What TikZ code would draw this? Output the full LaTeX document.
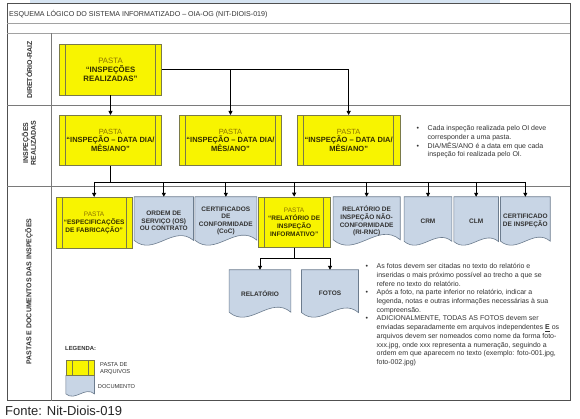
\documentclass[tikz,border=0pt]{standalone}
\usepackage{fontspec}
\setmainfont{Liberation Sans}
\usetikzlibrary{calc,arrows.meta,backgrounds}
\definecolor{fyellow}{HTML}{F8F400}
\definecolor{fborder}{HTML}{7A7A4A}
\definecolor{dfill}{HTML}{C8D5E5}
\definecolor{dborder}{HTML}{6C7C8E}
\definecolor{pastacol}{HTML}{8C7400}
\definecolor{qcol}{HTML}{332E00}
\definecolor{txt}{HTML}{333333}
\definecolor{gridc}{HTML}{7A7A7A}
\definecolor{framec}{HTML}{505050}
\definecolor{bandc}{HTML}{D6E4F2}
\newcommand\fs[2]{\fontsize{#1pt}{#2pt}\selectfont}
\newcommand\pasta{{\mdseries\color{pastacol}PASTA}}
\newcommand\bl{\textbullet}
\newcommand\drawdoc[1]{%
  \path[docline] let \p1=(#1.north west), \p2=(#1.south east), \n1={\x2-\x1}, \n2={0.28*\n1}, \n3={\y2+0.081*\n1} in
    (\x1,\y1) -- (\x2,\y1) -- (\x2,\n3) .. controls ({\x2-\n1/3},{\n3+\n2}) and ({\x1+\n1/3},{\n3-\n2}) .. (\x1,\n3) -- cycle;}
\tikzset{
  folderbox/.style={draw=fborder, fill=fyellow, line width=0.6pt, inner sep=0pt, align=center, text=qcol,
    path picture={
      \draw[fborder, line width=0.6pt] ([xshift=#1]path picture bounding box.north west) -- ([xshift=#1]path picture bounding box.south west);
      \draw[fborder, line width=0.6pt] ([xshift=-#1]path picture bounding box.north east) -- ([xshift=-#1]path picture bounding box.south east);
    }},
  folderbox/.default=6.3pt,
  docbox/.style={draw=none, inner sep=0pt, align=center, text=txt, font=\fs{6.5}{7.6}\bfseries},
  docline/.style={draw=dborder, fill=dfill, line width=0.6pt},
  conn/.style={draw=black, line width=0.85pt},
  arr/.style={conn, -{Triangle[length=4pt,width=4pt]}},
  rowlabel/.style={rotate=90, align=center, font=\fs{7}{7.8}\bfseries, text=txt, inner sep=0pt},
  notes/.style={anchor=north west, inner sep=0pt, text=txt},
}
\begin{document}
\begin{tikzpicture}[x=1pt,y=-1pt]
\useasboundingbox (0,0) rectangle (580,419);
% residual band at top
\fill[bandc] (30,0) rectangle (500,2.6);
% frame and grid
\draw[framec, line width=0.8pt] (7,3.5) rectangle (570,400.7);
\draw[gridc!70, line width=0.6pt] (7,23.3) -- (570,23.3);
\draw[gridc!70, line width=0.6pt] (7,33.3) -- (570,33.3);
\draw[gridc, line width=0.6pt] (7,105) -- (570,105);
\draw[gridc, line width=0.6pt] (7,186.7) -- (570,186.7);
\draw[gridc, line width=0.6pt] (51.7,33.3) -- (51.7,400.7);
% title
\node[anchor=west, inner sep=0pt, font=\fs{7.1}{8}, text=txt] (title) at (9,14) {ESQUEMA LÓGICO DO SISTEMA INFORMATIZADO – OIA-OG (NIT-DIOIS-019)};
% row labels
\node[rowlabel] (lab1) at (29,70) {DIRETÓRIO-RAIZ};
\node[rowlabel] (lab2) at (29,143) {INSPEÇÕES\\REALIZADAS};
\node[rowlabel] (lab3) at (29,291.5) {PASTAS E DOCUMENTOS DAS INSPEÇÕES};
% root folder
\node[folderbox, minimum width=102.4pt, minimum height=50.7pt, font=\fs{7.8}{9}\bfseries] (root) at (110.5,69.65) {\pasta\\“INSPEÇÕES\\REALIZADAS”};
% inspection folders
\node[folderbox, minimum width=102.4pt, minimum height=50pt, font=\fs{7.5}{7.9}\bfseries] (i1) at (110.5,140.3) {\pasta\\“INSPEÇÃO – DATA DIA/\\MÊS/ANO”};
\node[folderbox, minimum width=102.4pt, minimum height=50pt, font=\fs{7.5}{7.9}\bfseries] (i2) at (230.5,140.3) {\pasta\\“INSPEÇÃO – DATA DIA/\\MÊS/ANO”};
\node[folderbox, minimum width=102.7pt, minimum height=50pt, font=\fs{7.5}{7.9}\bfseries] (i3) at (348.65,140.3) {\pasta\\“INSPEÇÃO – DATA DIA/\\MÊS/ANO”};
% notes top
\node[notes, font=\fs{7}{8.7}] (notes1) at (416.5,124.5)
 {\begin{tabular}{@{}p{11pt}@{}l@{}}
  \bl & Cada inspeção realizada pelo OI deve\\
      & corresponder a uma pasta.\\
  \bl & DIA/MÊS/ANO é a data em que cada\\
      & inspeção foi realizada pelo OI.
  \end{tabular}};
% row 3
\node[folderbox, minimum width=76.3pt, minimum height=51pt, font=\fs{6.5}{7.8}\bfseries] (espec) at (94.15,222.8) {\pasta\\“ESPECIFICAÇÕES\\DE FABRICAÇÃO”};
\node[docbox, minimum width=59pt, minimum height=48pt] (ordem) at (163.8,221) {ORDEM DE\\SERVIÇO (OS)\\OU CONTRATO};
\node[docbox, minimum width=61.7pt, minimum height=48pt] (cert) at (225.85,221) {CERTIFICADOS\\DE\\CONFORMIDADE\\(CoC)};
\node[folderbox, minimum width=71.7pt, minimum height=50.3pt, font=\fs{6.5}{7.8}\bfseries] (prel) at (294.15,222.15) {\pasta\\“RELATÓRIO DE\\INSPEÇÃO\\INFORMATIVO”};
\node[docbox, minimum width=66.7pt, minimum height=48pt] (rirnc) at (366.65,221) {RELATÓRIO DE\\INSPEÇÃO NÃO-\\CONFORMIDADE\\(RI-RNC)};
\node[docbox, minimum width=47.4pt, minimum height=48pt] (crm) at (428,221) {CRM};
\node[docbox, minimum width=44.3pt, minimum height=48pt] (clm) at (476.15,221) {CLM};
\node[docbox, minimum width=49.3pt, minimum height=48pt] (certinsp) at (525.35,221) {CERTIFICADO\\DE INSPEÇÃO};
% level 2
\node[docbox, minimum width=61.4pt, minimum height=47pt] (relat) at (260,293.5) {RELATÓRIO};
\node[docbox, minimum width=56.6pt, minimum height=47pt] (fotos) at (330,293.5) {FOTOS};
% notes bottom
\node[notes, font=\fs{7}{8.7}] (notes2) at (365.5,262.5)
 {\begin{tabular}{@{}p{11pt}@{}l@{}}
  \bl & As fotos devem ser citadas no texto do relatório e\\
      & inseridas o mais próximo possível ao trecho a que se\\
      & refere no texto do relatório.\\
  \bl & Após a foto, na parte inferior no relatório, indicar a\\
      & legenda, notas e outras informações necessárias à sua\\
      & compreensão.\\
  \bl & ADICIONALMENTE, TODAS AS FOTOS devem ser\\
      & enviadas separadamente em arquivos independentes \underline{\textbf{E}} os\\
      & arquivos devem ser nomeados como nome da forma foto-\\
      & xxx.jpg, onde xxx representa a numeração, seguindo a\\
      & ordem em que aparecem no texto (exemplo: foto-001.jpg,\\
      & foto-002.jpg)
  \end{tabular}};
% legend
\node[anchor=west, inner sep=0pt, font=\fs{5.9}{7}\bfseries, text=txt] (legtitle) at (65,348.7) {LEGENDA:};
\node[folderbox=6.5pt, minimum width=28.3pt, minimum height=14.6pt] (legfold) at (80.15,368) {};
\node[docbox, minimum width=28.3pt, minimum height=20.5pt] (legdoc) at (80.15,385.75) {};
\node[anchor=west, inner sep=0pt, align=left, font=\fs{5.7}{6.7}, text=txt] (legfoldtxt) at (100,368.3) {PASTA DE\\ARQUIVOS};
\node[anchor=west, inner sep=0pt, font=\fs{5.7}{6.7}, text=txt] (legdoctxt) at (97.7,386.7) {DOCUMENTO};
% source
\node[anchor=west, inner sep=0pt, font=\fs{13}{15}, text=black!85] (fonte) at (5,410.5) {Fonte: Nit-Diois-019};
% document outlines and page background
\begin{scope}[on background layer]
\fill[white] (0,0) rectangle (580,419);
\drawdoc{ordem}\drawdoc{cert}\drawdoc{rirnc}\drawdoc{crm}\drawdoc{clm}\drawdoc{certinsp}\drawdoc{relat}\drawdoc{fotos}\drawdoc{legdoc}
\end{scope}
% connectors
\draw[arr] (root.south) -- (i1.north);
\draw[arr] (root.east) -| (i3.north);
\draw[arr] (root.east -| i2.north) -- (i2.north);
\coordinate (bus) at (0,182);
\draw[conn] (i1.south) -- (i1.south |- bus);
\draw[conn] (espec.north |- bus) -- (certinsp.north |- bus);
\foreach \nm in {espec,ordem,cert,prel,rirnc,crm,clm,certinsp} {\draw[arr] (\nm.north |- bus) -- (\nm.north);}
\coordinate (bus2) at (0,258.5);
\draw[conn] (prel.south) -- (prel.south |- bus2);
\draw[conn] (relat.north |- bus2) -- (fotos.north |- bus2);
\draw[arr] (relat.north |- bus2) -- (relat.north);
\draw[arr] (fotos.north |- bus2) -- (fotos.north);
\end{tikzpicture}
\end{document}
